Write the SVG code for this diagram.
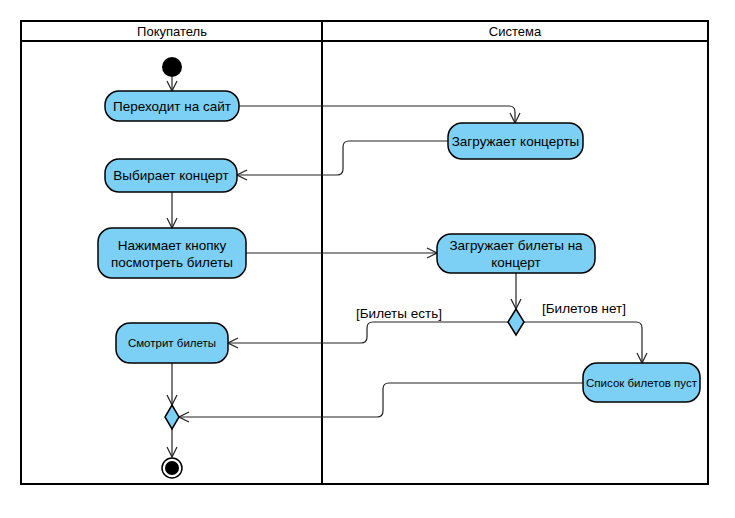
<svg xmlns="http://www.w3.org/2000/svg" width="735" height="518" viewBox="0 0 735 518">
<style>
.lane{fill:none;stroke:#000;stroke-width:2}
.act{fill:#7dd0f5;stroke:#000;stroke-width:1.5}
.t{font-family:"Liberation Sans",Arial,sans-serif;font-size:13.5px;fill:#000;text-anchor:middle}
.s{font-size:11.5px}
.h{font-size:13px}
.c{fill:none;stroke:#222;stroke-width:1.2;marker-end:url(#arr)}
.g{font-family:"Liberation Sans",Arial,sans-serif;font-size:13.5px;fill:#000}
</style>
<defs>
<marker id="arr" viewBox="0 0 12 12" refX="11" refY="6" markerWidth="12" markerHeight="12" markerUnits="userSpaceOnUse" orient="auto">
<path d="M1,1 L11,6 L1,11" fill="none" stroke="#222" stroke-width="1.2"/>
</marker>
</defs>
<g id="swimlanes">
<rect class="lane" x="21" y="21" width="687" height="463"/>
<line class="lane" x1="21" y1="41" x2="708" y2="41"/>
<line class="lane" x1="322" y1="21" x2="322" y2="484"/>
<text class="t h" x="172" y="36">Покупатель</text>
<text class="t h" x="515" y="36">Система</text>
</g>
<g id="connectors">
<path class="c" d="M172,77 V91"/>
<path class="c" d="M239,106 H509 Q515,106 515,112 V123"/>
<path class="c" d="M448,141 H349 Q343,141 343,147 V169 Q343,175 337,175 H237"/>
<path class="c" d="M172,192 V228"/>
<path class="c" d="M246,253 H437"/>
<path class="c" d="M516,273 V309"/>
<path class="c" d="M508,322 H373 Q367,322 367,328 V337 Q367,343 361,343 H228"/>
<path class="c" d="M524,322 H636 Q642,322 642,328 V363"/>
<path class="c" d="M583,383 H389 Q383,383 383,389 V411 Q383,417 377,417 H179"/>
<path class="c" d="M172,363 V405"/>
<path class="c" d="M172,429 V457"/>
<text class="g" x="356" y="318">[Билеты есть]</text>
<text class="g" x="542" y="313">[Билетов нет]</text>
</g>
<g id="start"><circle cx="172" cy="67" r="10" fill="#000"/></g>
<g id="n1"><rect class="act" x="105" y="91" width="134" height="30" rx="14"/><text class="t" x="172" y="111">Переходит на сайт</text></g>
<g id="n2"><rect class="act" x="448" y="123" width="135" height="36" rx="14"/><text class="t" x="515.5" y="146">Загружает концерты</text></g>
<g id="n3"><rect class="act" x="105" y="159" width="132" height="33" rx="14"/><text class="t" x="171" y="180">Выбирает концерт</text></g>
<g id="n4"><rect class="act" x="98" y="228" width="148" height="50" rx="14"/><text class="t" x="172" y="250">Нажимает кнопку</text><text class="t" x="172" y="267">посмотреть билеты</text></g>
<g id="n5"><rect class="act" x="437" y="234" width="158" height="39" rx="14"/><text class="t" x="516" y="250">Загружает билеты на</text><text class="t" x="516" y="267">концерт</text></g>
<g id="d1"><path class="act" d="M516,309 L524,322 L516,335 L508,322 Z"/></g>
<g id="n6"><rect class="act" x="116" y="323" width="112" height="40" rx="14"/><text class="t s" x="172" y="347">Смотрит билеты</text></g>
<g id="n7"><rect class="act" x="583" y="363" width="117" height="39" rx="14"/><text class="t s" x="641.5" y="387">Список билетов пуст</text></g>
<g id="d2"><path class="act" d="M172,405 L179,417 L172,429 L165,417 Z"/></g>
<g id="end"><circle cx="172" cy="468" r="10" fill="#fff" stroke="#000" stroke-width="1.5"/><circle cx="172" cy="468" r="7" fill="#000"/></g>
</svg>
